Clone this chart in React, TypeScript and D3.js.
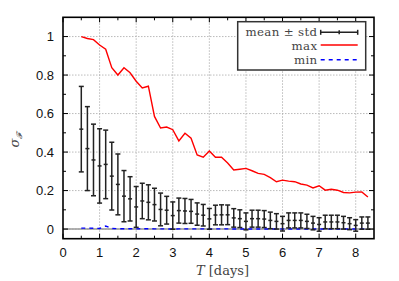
import React from "react";
import { scaleLinear, line, range } from "d3";

// time steps in days (every 4 hours, 0.5 .. 8.33)
const steps = range(3, 51).map((k) => k / 6);

const meanVals = [
  0.519, 0.418, 0.359, 0.328, 0.336, 0.275, 0.232, 0.171, 0.157, 0.115, 0.146, 0.139,
  0.127, 0.102, 0.098, 0.070, 0.096, 0.094, 0.092, 0.078, 0.072, 0.053, 0.073, 0.074,
  0.074, 0.058, 0.054, 0.040, 0.054, 0.054, 0.052, 0.045, 0.040, 0.028, 0.045, 0.045,
  0.045, 0.040, 0.031, 0.024, 0.037, 0.037, 0.037, 0.033, 0.028, 0.019, 0.031, 0.031,
];
const stdVals = [
  0.222, 0.218, 0.186, 0.193, 0.178, 0.176, 0.158, 0.133, 0.115, 0.106, 0.092, 0.091,
  0.085, 0.085, 0.072, 0.071, 0.065, 0.065, 0.062, 0.058, 0.056, 0.054, 0.051, 0.052,
  0.051, 0.048, 0.046, 0.044, 0.044, 0.044, 0.044, 0.043, 0.040, 0.038, 0.039, 0.039,
  0.039, 0.037, 0.035, 0.035, 0.035, 0.035, 0.035, 0.033, 0.031, 0.030, 0.032, 0.032,
];
const maxVals = [
  1.0, 0.99, 0.984, 0.956, 0.934, 0.838, 0.8, 0.838, 0.812, 0.768, 0.733, 0.742,
  0.585, 0.525, 0.53, 0.516, 0.458, 0.498, 0.472, 0.385, 0.373, 0.406, 0.373, 0.373,
  0.343, 0.307, 0.311, 0.315, 0.303, 0.289, 0.284, 0.267, 0.246, 0.254, 0.249, 0.246,
  0.234, 0.228, 0.214, 0.225, 0.202, 0.207, 0.202, 0.19, 0.188, 0.192, 0.193, 0.167,
];
const minVals = [
  0.005, 0.005, 0.004, 0.003, 0.016, 0.003, 0.002, 0.002, 0.002, 0.001, 0.002, 0.002,
  0.001, 0.001, 0.001, 0.0, 0.001, 0.001, 0.001, 0.001, 0.001, 0.0, 0.001, 0.001,
  0.001, 0.0, 0.0, 0.0, 0.0, 0.0, 0.0, 0.0, 0.0, 0.0, 0.0, 0.0,
  0.0, 0.0, 0.0, 0.0, 0.0, 0.0, 0.0, 0.0, 0.0, 0.0, 0.0, 0.0,
];

const xTicks = [0, 1, 2, 3, 4, 5, 6, 7, 8];
const yTicks = [0, 0.2, 0.4, 0.6, 0.8, 1];
const xMinor = range(0, 17).map((k) => k * 0.5);
const yMinor = range(0, 11).map((k) => k * 0.1);

const App = () => {
  const width = 399;
  const height = 281;
  const left = 63, right = 374, top = 17.3, bottom = 238.7;
  const x = scaleLinear().domain([0, 8.5]).range([left, right]);
  const y = scaleLinear().domain([-0.05, 1.1]).range([bottom, top]);
  const path = line<number>().x((d, i) => x(steps[i])).y((d) => y(d));
  const sans = "'Liberation Sans', Arial, sans-serif";
  const serif = "'DejaVu Serif', serif";
  const grey = "#444";

  return (
    <svg width={width} height={height} style={{ position: "absolute", left: 0, top: 0 }}>
      <rect width={width} height={height} fill="#fff" />
      {/* grid */}
      {xTicks.slice(1).map((t) => (
        <line key={"gx" + t} x1={x(t)} x2={x(t)} y1={top} y2={bottom}
          stroke="#aaa" strokeWidth={0.8} strokeDasharray="1.5,1.5" />
      ))}
      {yTicks.map((t) => (
        <line key={"gy" + t} x1={left} x2={right} y1={y(t)} y2={y(t)}
          stroke="#aaa" strokeWidth={0.8} strokeDasharray="1.5,1.5" />
      ))}
      {/* zero axis */}
      <line x1={left} x2={right} y1={y(0)} y2={y(0)} stroke="#999" strokeWidth={1.6} />

      {/* min */}
      <path d={path(minVals) || ""} fill="none" stroke="#0000ff" strokeWidth={1.4} strokeDasharray="4,4" />
      {/* max */}
      <path d={path(maxVals) || ""} fill="none" stroke="#ff0000" strokeWidth={1.4} />

      {/* mean ± std */}
      {steps.map((t, i) => {
        const cx = x(t);
        const y1 = y(meanVals[i] + stdVals[i]);
        const y0 = y(meanVals[i] - stdVals[i]);
        const ym = y(meanVals[i]);
        return (
          <g key={"e" + i} stroke="#222" strokeWidth={1.5}>
            <line x1={cx} x2={cx} y1={y1} y2={y0} />
            <line x1={cx - 2.5} x2={cx + 2.5} y1={y1} y2={y1} />
            <line x1={cx - 2.5} x2={cx + 2.5} y1={y0} y2={y0} />
            <line x1={cx - 2} x2={cx + 2} y1={ym} y2={ym} />
          </g>
        );
      })}

      {/* ticks */}
      {xMinor.map((t, i) => {
        const len = i % 2 === 0 ? 5 : 3;
        return (
          <g key={"tx" + i} stroke="#000" strokeWidth={1}>
            <line x1={x(t)} x2={x(t)} y1={bottom} y2={bottom - len} />
            <line x1={x(t)} x2={x(t)} y1={top} y2={top + len} />
          </g>
        );
      })}
      {yMinor.map((t, i) => {
        const len = i % 2 === 0 ? 5 : 3;
        return (
          <g key={"ty" + i} stroke="#000" strokeWidth={1}>
            <line x1={left} x2={left + len} y1={y(t)} y2={y(t)} />
            <line x1={right} x2={right - len} y1={y(t)} y2={y(t)} />
          </g>
        );
      })}
      <rect x={left} y={top} width={right - left} height={bottom - top}
        fill="none" stroke="#000" strokeWidth={1.6} />

      {/* tick labels */}
      {xTicks.map((t) => (
        <text key={"lx" + t} x={x(t)} y={256.5} textAnchor="middle"
          fontFamily={sans} fontSize={13} fill="#111">{t}</text>
      ))}
      {yTicks.map((t) => (
        <text key={"ly" + t} x={54} y={y(t) + 4.5} textAnchor="end"
          fontFamily={sans} fontSize={13} fill="#111">{t}</text>
      ))}

      {/* axis labels */}
      <text x={(left + right) / 2 + 4} y={275} textAnchor="middle" fontFamily={serif}
        fontSize={13} fill={grey}>
        <tspan fontStyle="italic">T</tspan> [days]
      </text>
      <text transform="translate(19,140) rotate(-90)" textAnchor="middle" fontFamily={serif}
        fontSize={13} fill={grey}>
        <tspan fontStyle="italic">σ</tspan>
        <tspan fontSize={8} dy={3} fontStyle="italic">𝓕</tspan>
      </text>

      {/* legend */}
      <rect x={237.7} y={21.7} width={128} height={48.3} fill="#fff" stroke="#333" strokeWidth={1.5} />
      <g fontFamily={serif} fontSize={11.8} fill={grey} textAnchor="end" letterSpacing={0.35}>
        <text x={317.5} y={36}>mean ± std</text>
        <text x={317.5} y={49.8}>max</text>
        <text x={317.5} y={63.6}>min</text>
      </g>
      <g stroke="#222" strokeWidth={1.5}>
        <line x1={320.7} x2={357.7} y1={32.3} y2={32.3} />
        <line x1={320.7} x2={320.7} y1={29.8} y2={34.8} />
        <line x1={357.7} x2={357.7} y1={29.8} y2={34.8} />
        <line x1={339.2} x2={339.2} y1={30.3} y2={34.3} />
      </g>
      <line x1={320.7} x2={357.7} y1={45} y2={45} stroke="#ff0000" strokeWidth={1.4} />
      <line x1={320.7} x2={357.7} y1={59.7} y2={59.7} stroke="#0000ff" strokeWidth={1.4} strokeDasharray="4,4" />
    </svg>
  );
};

export default App;
